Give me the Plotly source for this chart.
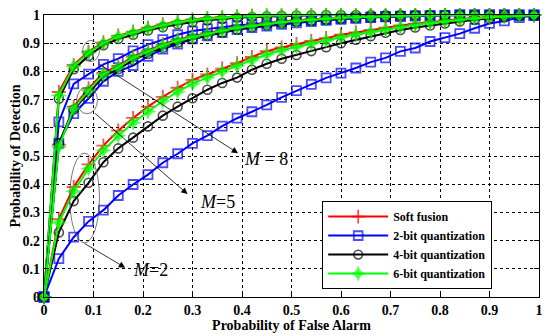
import plotly.graph_objects as go

# False-alarm probability sample points
p_fa = [0.00, 0.03, 0.06, 0.09, 0.12, 0.15, 0.18, 0.21, 0.24, 0.27, 0.30, 0.33,
        0.36, 0.39, 0.42, 0.45, 0.48, 0.51, 0.54, 0.57, 0.60, 0.63, 0.66, 0.69,
        0.72, 0.75, 0.78, 0.81, 0.84, 0.87, 0.90, 0.93, 0.96, 0.99, 1.00]

# M = 8
m8_soft = [0, 0.727, 0.823, 0.870, 0.903, 0.927, 0.941, 0.955, 0.967, 0.976, 0.984, 0.989,
           0.992, 0.995, 0.997, 0.998, 0.999, 1.0, 1.0, 1.0, 1.0, 1.0, 1.0, 1.0,
           1.0, 1.0, 1.0, 1.0, 1.0, 1.0, 1.0, 1.0, 1.0, 1.0, 1.0]
m8_2bit = [0, 0.621, 0.756, 0.790, 0.825, 0.845, 0.873, 0.895, 0.913, 0.930, 0.943, 0.951,
           0.957, 0.963, 0.968, 0.972, 0.976, 0.979, 0.982, 0.985, 0.988, 0.990, 0.992, 0.994,
           0.996, 0.997, 0.998, 0.999, 1.0, 1.0, 1.0, 1.0, 1.0, 1.0, 1.0]
m8_4bit = [0, 0.703, 0.808, 0.855, 0.893, 0.915, 0.930, 0.945, 0.957, 0.967, 0.975, 0.981,
           0.986, 0.990, 0.993, 0.995, 0.997, 0.998, 0.999, 1.0, 1.0, 1.0, 1.0, 1.0,
           1.0, 1.0, 1.0, 1.0, 1.0, 1.0, 1.0, 1.0, 1.0, 1.0, 1.0]
m8_6bit = [0, 0.715, 0.818, 0.866, 0.900, 0.924, 0.938, 0.952, 0.964, 0.974, 0.982, 0.987,
           0.991, 0.994, 0.996, 0.998, 0.999, 1.0, 1.0, 1.0, 1.0, 1.0, 1.0, 1.0,
           1.0, 1.0, 1.0, 1.0, 1.0, 1.0, 1.0, 1.0, 1.0, 1.0, 1.0]

# M = 5
m5_soft = [0, 0.540, 0.675, 0.740, 0.795, 0.820, 0.853, 0.874, 0.896, 0.913, 0.925, 0.936,
           0.947, 0.957, 0.964, 0.970, 0.976, 0.981, 0.985, 0.988, 0.991, 0.993, 0.995, 0.996,
           0.997, 0.998, 0.999, 1.0, 1.0, 1.0, 1.0, 1.0, 1.0, 1.0, 1.0]
m5_2bit = [0, 0.545, 0.650, 0.704, 0.765, 0.800, 0.821, 0.853, 0.879, 0.897, 0.915, 0.926,
           0.938, 0.948, 0.955, 0.961, 0.967, 0.972, 0.977, 0.981, 0.985, 0.988, 0.991, 0.993,
           0.995, 0.997, 0.998, 0.999, 1.0, 1.0, 1.0, 1.0, 1.0, 1.0, 1.0]
m5_4bit = [0, 0.545, 0.665, 0.725, 0.782, 0.808, 0.840, 0.862, 0.884, 0.902, 0.915, 0.927,
           0.938, 0.949, 0.957, 0.964, 0.970, 0.976, 0.980, 0.984, 0.988, 0.991, 0.993, 0.995,
           0.997, 0.998, 0.999, 1.0, 1.0, 1.0, 1.0, 1.0, 1.0, 1.0, 1.0]
m5_6bit = [0, 0.533, 0.668, 0.732, 0.790, 0.815, 0.849, 0.870, 0.892, 0.910, 0.922, 0.933,
           0.944, 0.955, 0.962, 0.968, 0.974, 0.979, 0.983, 0.987, 0.990, 0.992, 0.994, 0.996,
           0.997, 0.998, 0.999, 1.0, 1.0, 1.0, 1.0, 1.0, 1.0, 1.0, 1.0]

# M = 2
m2_soft = [0, 0.276, 0.390, 0.470, 0.537, 0.590, 0.635, 0.675, 0.710, 0.742, 0.770, 0.789,
           0.810, 0.829, 0.851, 0.872, 0.885, 0.897, 0.908, 0.918, 0.930, 0.938, 0.947, 0.955,
           0.963, 0.969, 0.975, 0.981, 0.985, 0.989, 0.993, 0.996, 0.998, 1.0, 1.0]
m2_2bit = [0, 0.136, 0.212, 0.268, 0.308, 0.360, 0.399, 0.434, 0.476, 0.508, 0.545, 0.572,
           0.606, 0.634, 0.657, 0.681, 0.708, 0.732, 0.754, 0.777, 0.794, 0.812, 0.833, 0.848,
           0.871, 0.883, 0.906, 0.920, 0.934, 0.953, 0.970, 0.979, 0.991, 0.998, 1.0]
m2_4bit = [0, 0.229, 0.340, 0.405, 0.478, 0.527, 0.565, 0.605, 0.643, 0.675, 0.705, 0.735,
           0.759, 0.778, 0.806, 0.827, 0.845, 0.858, 0.872, 0.886, 0.900, 0.912, 0.925, 0.937,
           0.947, 0.956, 0.963, 0.970, 0.977, 0.983, 0.988, 0.992, 0.996, 0.999, 1.0]
m2_6bit = [0, 0.264, 0.375, 0.455, 0.520, 0.572, 0.618, 0.658, 0.695, 0.728, 0.756, 0.778,
           0.800, 0.820, 0.840, 0.860, 0.875, 0.887, 0.899, 0.910, 0.921, 0.931, 0.940, 0.949,
           0.958, 0.965, 0.972, 0.978, 0.983, 0.988, 0.992, 0.995, 0.998, 1.0, 1.0]

series_names = ["Soft fusion", "2-bit quantization", "4-bit quantization", "6-bit quantization"]
groups = [
    ("M=8", [m8_soft, m8_2bit, m8_4bit, m8_6bit]),
    ("M=5", [m5_soft, m5_2bit, m5_4bit, m5_6bit]),
    ("M=2", [m2_soft, m2_2bit, m2_4bit, m2_6bit]),
]
tick_vals = [0, 0.1, 0.2, 0.3, 0.4, 0.5, 0.6, 0.7, 0.8, 0.9, 1]
tick_text = ["0", "0.1", "0.2", "0.3", "0.4", "0.5", "0.6", "0.7", "0.8", "0.9", "1"]

styles = [
    dict(color="#ff0000", symbol="cross-thin-open", size=10, lw=1.8),
    dict(color="#0000ff", symbol="square-open", size=9, lw=1.8),
    dict(color="#000000", symbol="circle-open", size=9, lw=1.6),
    dict(color="#00ff00", symbol="star-diamond", size=11, lw=0.5),
]

FONT = "Liberation Serif"
fig = go.Figure()
n = len(p_fa)
for gi, (gname, ser) in enumerate(groups):
    for si, ys in enumerate(ser):
        st = styles[si]
        sizes = [st["size"]] * (n - 1) + [0]
        fig.add_trace(go.Scatter(
            x=p_fa, y=ys, mode="lines+markers", name=series_names[si],
            showlegend=(gi == 0),
            cliponaxis=False,
            line=dict(color=st["color"], width=2),
            marker=dict(symbol=st["symbol"], size=sizes, color=st["color"],
                        line=dict(color=st["color"], width=st["lw"])),
        ))

axis_common = dict(
    range=[0, 1], tickvals=tick_vals, ticktext=tick_text, automargin=False,
    ticklabeloverflow="allow",
    showgrid=True, gridcolor="#000000", griddash="dot", gridwidth=1,
    showline=True, linecolor="#000000", linewidth=1.2, mirror="ticks",
    ticks="inside", ticklen=5, tickcolor="#000000", zeroline=False,
    tickfont=dict(family=FONT, size=14, color="#000000", weight="bold"),
)
fig.update_xaxes(**axis_common,
                 title=dict(text="Probability of False Alarm", standoff=2,
                            font=dict(family=FONT, size=14, color="#000000", weight="bold")))
fig.update_yaxes(**axis_common,
                 title=dict(text="Probability of Detection", standoff=2,
                            font=dict(family=FONT, size=14, color="#000000", weight="bold")))

# ellipses
ell = [
    (0.078, 0.835, 0.112, 0.910),
    (0.066, 0.650, 0.108, 0.745),
    (0.052, 0.192, 0.112, 0.510),
]
for x0, y0, x1, y1 in ell:
    fig.add_shape(type="circle", xref="x", yref="y", x0=x0, y0=y0, x1=x1, y1=y1,
                  line=dict(color="#555555", width=0.8))

arrows = [
    # (tail x, tail y, head x, head y, text, text x, text y)
    (0.108, 0.830, 0.392, 0.510, "<i>M</i> = 8", 0.448, 0.490),
    (0.100, 0.656, 0.290, 0.365, "<i>M</i>=5", 0.350, 0.336),
    (0.079, 0.193, 0.164, 0.104, "<i>M</i>=2", 0.216, 0.095),
]
for tx, ty, hx, hy, txt, lx, ly in arrows:
    fig.add_annotation(x=hx, y=hy, ax=tx, ay=ty, xref="x", yref="y", axref="x", ayref="y",
                       showarrow=True, arrowhead=2, arrowsize=1.6, arrowwidth=0.8,
                       arrowcolor="#000000", text="")
    fig.add_annotation(x=lx, y=ly, xref="x", yref="y", text=txt, showarrow=False,
                       font=dict(family=FONT, size=18, color="#000000"))

fig.update_layout(
    width=542, height=328,
    margin=dict(l=36, r=11, t=7, b=39),
    paper_bgcolor="#ffffff", plot_bgcolor="#ffffff",
    showlegend=True,
    legend=dict(x=0.562, y=0.34, xanchor="left", yanchor="top",
                bgcolor="#ffffff", bordercolor="#000000", borderwidth=1,
                font=dict(family=FONT, size=12, color="#000000", weight="bold"),
                tracegroupgap=0, itemwidth=60),
)

fig.write_html("out.html")
